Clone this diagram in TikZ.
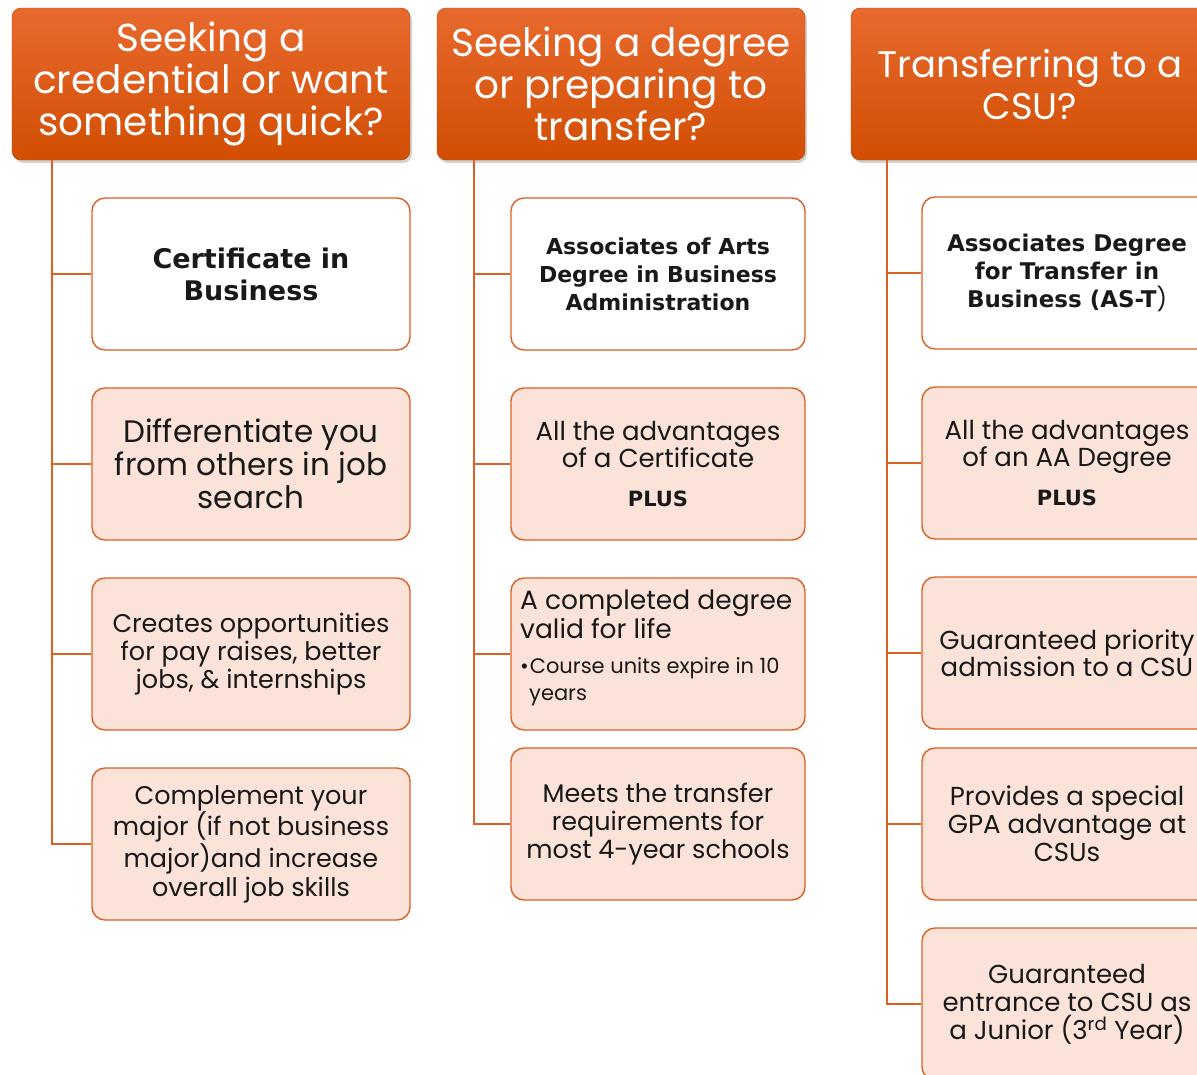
\documentclass[tikz,border=0pt]{standalone}
\usepackage{fontspec}
\setmainfont{Poppins}
\newfontfamily\boldfont{DejaVu Sans}
\usetikzlibrary{shadows}
\definecolor{hdtop}{HTML}{E8692E}
\definecolor{hdbot}{HTML}{D14E02}
\definecolor{edgeor}{HTML}{DD5F24}
\definecolor{pinkfill}{HTML}{FBE3DA}
\tikzset{header/.style={rounded corners=9pt,top color=hdtop,bottom color=hdbot,
   draw=hdbot!85!black,text=white,align=center,inner sep=0pt,minimum height=152pt,
   drop shadow={shadow xshift=2pt,shadow yshift=-3pt,opacity=.35},
   font=\fontsize{39}{42}\selectfont},
 item/.style={rounded corners=13pt,draw=edgeor,line width=1.4pt,fill=pinkfill,
   align=center,inner sep=0pt,minimum height=152pt,text=black!90},
 title/.style={item,fill=white,font=\boldfont\bfseries\fontsize{22}{28}\selectfont},
 link/.style={draw=edgeor,line width=1.4pt},
 }
\newcommand{\plusword}{{\boldfont\bfseries\fontsize{21}{27}\selectfont PLUS}}
\begin{document}
\begin{tikzpicture}[x=1pt,y=-1pt]
    \useasboundingbox (0,0) rectangle (1197,1074);
    \clip (0,0) rectangle (1197,1074);
    % headers
    \node[header,minimum width=398pt] (h1) at (211,84) {Seeking a\\credential or want\\something quick?};
    \node[header,minimum width=368pt] (h2) at (621,84) {Seeking a degree\\or preparing to\\transfer?};
    \node[header,minimum width=358pt,font=\fontsize{37}{42}\selectfont] (h3) at (1030,84) {Transferring to a\\CSU?};
    % first column
    \node[title,minimum width=318pt,font=\boldfont\bfseries\fontsize{27}{32}\selectfont] (b11) at (251,274) {Certificate in\\Business};
    \node[item,minimum width=318pt,font=\fontsize{31}{33}\selectfont] (b12) at (251,464) {Differentiate you\\from others in job\\search};
    \node[item,minimum width=318pt,font=\fontsize{25.5}{28}\selectfont] (b13) at (251,654) {Creates opportunities\\for pay raises, better\\jobs, \& internships};
    \node[item,minimum width=318pt,font=\fontsize{25.5}{29}\selectfont] (b14) at (251,844) {Complement your\\major (if not business\\major)and increase\\overall job skills};
    % second column
    \node[title,minimum width=294pt] (b21) at (658,274) {Associates of Arts\\Degree in Business\\Administration};
    \node[item,minimum width=294pt,font=\fontsize{26}{27}\selectfont] (b22) at (658,464) {All the advantages\\of a Certificate\\[12pt]\plusword};
    \node[item,minimum width=294pt] (b23) at (658,654) {};
    \node[anchor=north west,align=left,inner sep=0pt,text=black!90,font=\fontsize{26.5}{27}\selectfont] (t23) at (520,590)
        {A completed degree\\valid for life\\[8pt]
         \fontsize{21}{24}\selectfont\textbullet\hspace{1pt}Course units expire in 10\\
         \fontsize{21}{24}\selectfont\hspace*{9pt}years};
    \node[item,minimum width=294pt,font=\fontsize{25.5}{28}\selectfont] (b24) at (658,824) {Meets the transfer\\requirements for\\most 4-year schools};
    % third column
    \node[title,minimum width=290pt,font=\boldfont\bfseries\fontsize{23}{28}\selectfont] (b31) at (1067,273) {Associates Degree\\for Transfer in\\Business (AS-T{\mdseries\normalfont\fontsize{23}{28}\selectfont)}};
    \node[item,minimum width=290pt,font=\fontsize{26}{27}\selectfont] (b32) at (1067,463) {All the advantages\\of an AA Degree\\[12pt]\plusword};
    \node[item,minimum width=290pt,font=\fontsize{26}{26}\selectfont] (b33) at (1067,653) {Guaranteed priority\\admission to a CSU};
    \node[item,minimum width=290pt,font=\fontsize{26}{28}\selectfont] (b34) at (1067,824) {Provides a special\\GPA advantage at\\CSUs};
    \node[item,minimum width=290pt,font=\fontsize{26}{28}\selectfont] (b35) at (1067,1004) {Guaranteed\\entrance to CSU as\\a Junior (3\textsuperscript{rd} Year)};
    % connectors
    \draw[link] (h1.south west) ++(40,0) |- (b11.west);
    \draw[link] (h1.south west) ++(40,0) |- (b12.west);
    \draw[link] (h1.south west) ++(40,0) |- (b13.west);
    \draw[link] (h1.south west) ++(40,0) |- (b14.west);
    \draw[link] (h2.south west) ++(37,0) |- (b21.west);
    \draw[link] (h2.south west) ++(37,0) |- (b22.west);
    \draw[link] (h2.south west) ++(37,0) |- (b23.west);
    \draw[link] (h2.south west) ++(37,0) |- (b24.west);
    \draw[link] (h3.south west) ++(36,0) |- (b31.west);
    \draw[link] (h3.south west) ++(36,0) |- (b32.west);
    \draw[link] (h3.south west) ++(36,0) |- (b33.west);
    \draw[link] (h3.south west) ++(36,0) |- (b34.west);
    \draw[link] (h3.south west) ++(36,0) |- (b35.west);
\end{tikzpicture}
\end{document}
